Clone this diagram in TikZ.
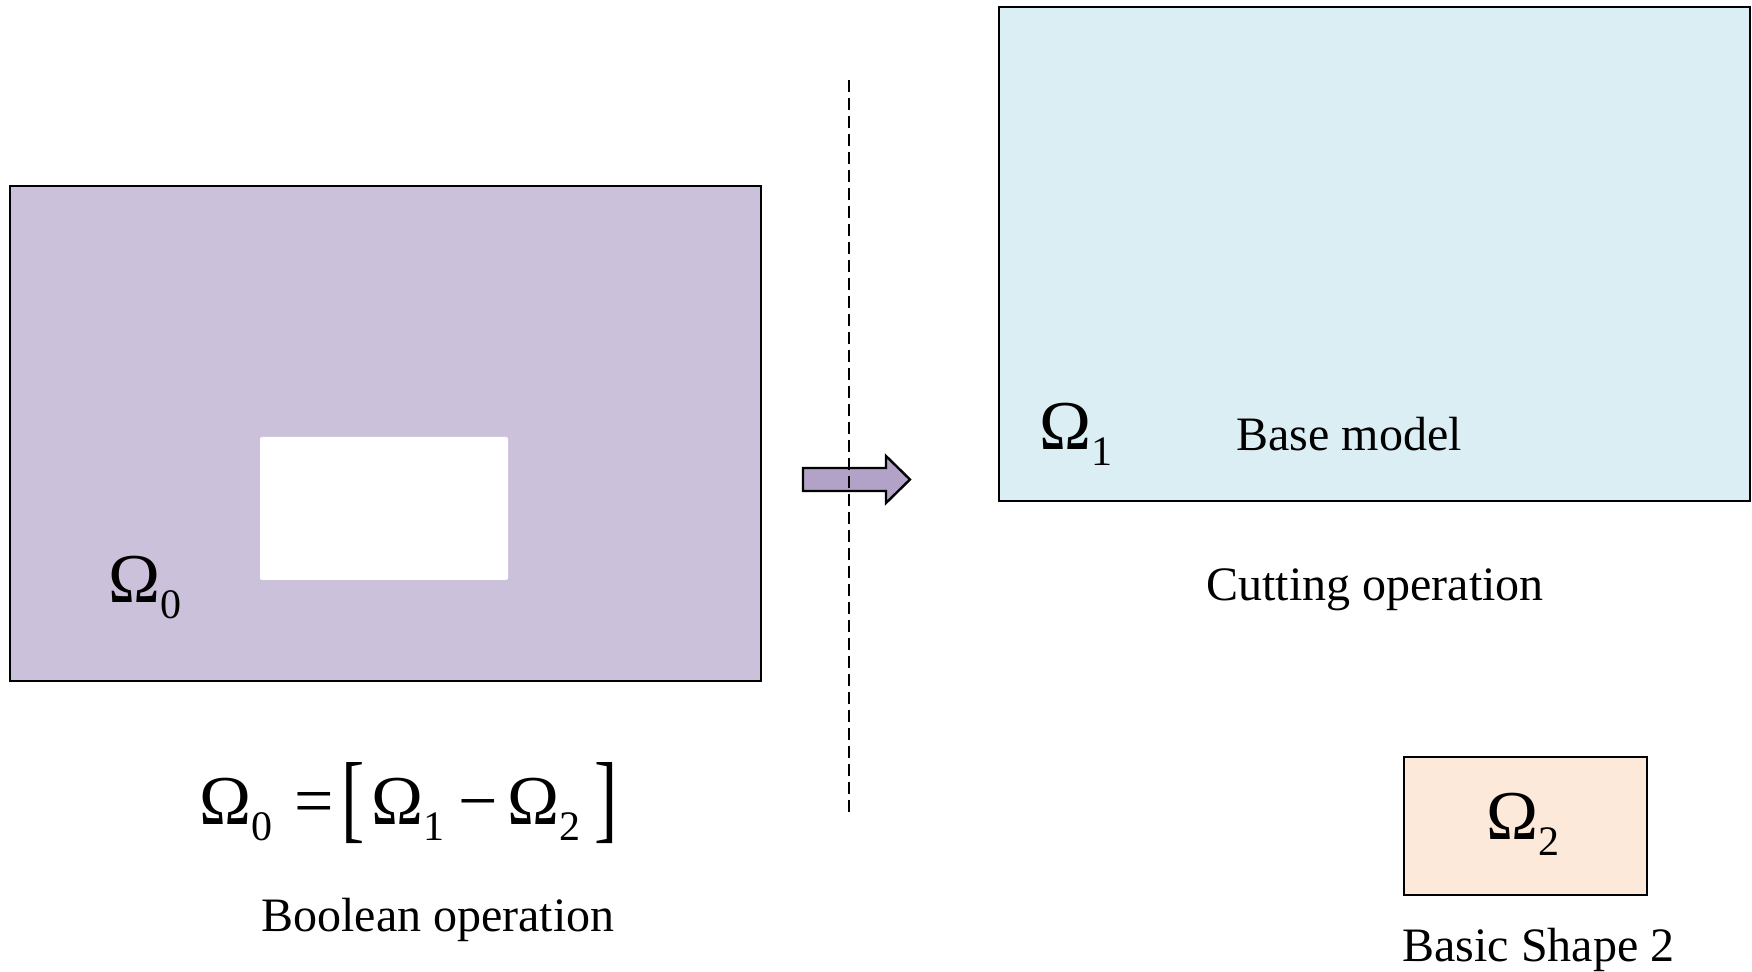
\documentclass[tikz,border=0pt]{standalone}
\usepackage{fontspec}
\setmainfont{Liberation Serif}
\usetikzlibrary{positioning}
\definecolor{boolpurple}{RGB}{204, 193, 218}
\definecolor{basecyan}{RGB}{219, 238, 244}
\definecolor{shapepeach}{RGB}{253, 233, 217}
\definecolor{arrowpurple}{RGB}{179, 162, 199}

% Omega with a lowered index
\newcommand{\omsub}[1]{Ω\raisebox{-8pt}{\fontsize{21}{21}\selectfont #1}}
% tall thin bracket
\newcommand{\bigbrk}[1]{\raisebox{-2.5pt}{\scalebox{1}[1.4]{#1}}}

\begin{document}
\begin{tikzpicture}[x=0.5pt, y=-0.5pt,
    region/.style={draw, line width=1pt, inner sep=0pt},
    caption/.style={anchor=base west, inner sep=0pt, font=\fontsize{24}{28}\selectfont},
    omlabel/.style={anchor=base west, inner sep=0pt, font=\fontsize{35}{40}\selectfont}]
  \useasboundingbox (0, 0) rectangle (1752, 972);

  % Result of the boolean operation, with the hole cut out
  \node[region, fill=boolpurple, minimum width=375.5pt, minimum height=247.5pt, anchor=north west] (omega0) at (9, 185) {};
  \fill[white, rounded corners=1pt] (260, 437) rectangle (508, 580);
  \node[omlabel] (om0lab) at (108, 603) {\omsub{0}};

  % Formula and caption
  \node[omlabel] (formula) at (199, 825) {\omsub{0}\hspace{11pt}=\hspace{4pt}\bigbrk{[}\hspace{3pt}\omsub{1}\hspace{7pt}−\hspace{5pt}\omsub{2}\hspace{7pt}\bigbrk{]}};
  \node[caption] (boolcap) at (261, 931) {Boolean operation};

  % Block arrow
  \filldraw[fill=arrowpurple, draw=black, line width=1.2pt]
    (803, 468) -- (886, 468) -- (886, 456) -- (910, 479.5) -- (886, 503) -- (886, 491) -- (803, 491) -- cycle;

  % Separator
  \coordinate (septop) at (849, 80);
  \coordinate (sepbot) at (849, 813);
  \draw[line width=0.75pt, dash pattern=on 6pt off 3pt] (septop) -- (sepbot);

  % Base model
  \node[region, fill=basecyan, minimum width=375.5pt, minimum height=247pt, anchor=north west] (omega1) at (998, 6) {};
  \node[omlabel] (om1lab) at (1039, 450) {\omsub{1}};
  \node[caption] (basecap) at (1236, 451) {Base model};
  \node[caption] (cutcap) at (1206, 601) {Cutting operation};

  % Basic shape
  \node[region, fill=shapepeach, minimum width=121.5pt, minimum height=69pt, anchor=north west] (omega2) at (1403, 756) {};
  \node[omlabel] (om2lab) at (1486, 840) {\omsub{2}};
  \node[caption] (shapecap) at (1402, 961) {Basic Shape 2};
\end{tikzpicture}
\end{document}
